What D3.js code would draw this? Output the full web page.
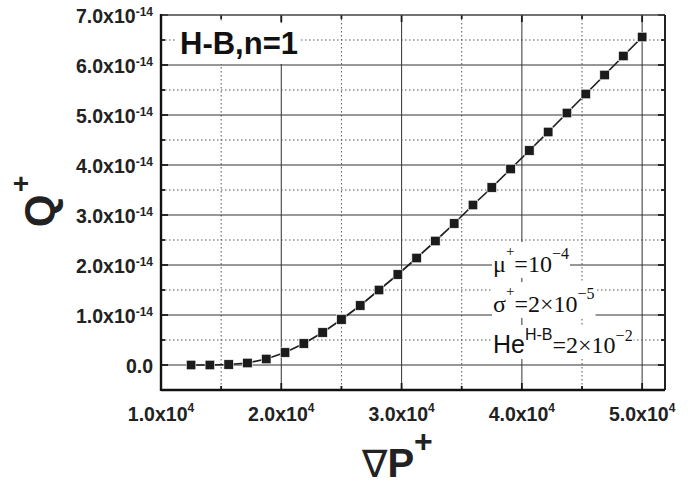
<!DOCTYPE html>
<html>
<head>
<meta charset="utf-8">
<script src="https://cdn.jsdelivr.net/npm/d3@7"></script>
<style>
  html, body { margin: 0; padding: 0; background: #fff; }
  svg { display: block; }
</style>
</head>
<body>
<svg id="chart" width="699" height="485"></svg>
<script>
// Pressure gradient (∇P+) and flow rate (Q+) samples
const gradP = [12500, 14062.5, 15625, 17187.5, 18750, 20312.5, 21875, 23437.5, 25000,
  26562.5, 28125, 29687.5, 31250, 32812.5, 34375, 35937.5, 37500, 39062.5, 40625,
  42187.5, 43750, 45312.5, 46875, 48437.5, 50000];
const flowQ = [0.00e-14, 0.00e-14, 0.01e-14, 0.04e-14, 0.12e-14, 0.25e-14, 0.43e-14,
  0.65e-14, 0.91e-14, 1.19e-14, 1.50e-14, 1.81e-14, 2.14e-14, 2.48e-14, 2.83e-14,
  3.20e-14, 3.55e-14, 3.92e-14, 4.29e-14, 4.66e-14, 5.04e-14, 5.42e-14, 5.80e-14,
  6.18e-14, 6.56e-14];

// Axis ticks and their labels (mantissa + exponent)
const xMajorTicks = [1e4, 2e4, 3e4, 4e4, 5e4];
const xMinorTicks = [1.5e4, 2.5e4, 3.5e4, 4.5e4];
const xTickMantissa = ["1.0x10", "2.0x10", "3.0x10", "4.0x10", "5.0x10"];
const xTickExponent = ["4", "4", "4", "4", "4"];
const yMajorTicks = [0, 1e-14, 2e-14, 3e-14, 4e-14, 5e-14, 6e-14, 7e-14];
const yMinorTicks = [0.5e-14, 1.5e-14, 2.5e-14, 3.5e-14, 4.5e-14, 5.5e-14, 6.5e-14];
const yTickMantissa = ["0.0", "1.0x10", "2.0x10", "3.0x10", "4.0x10", "5.0x10", "6.0x10", "7.0x10"];
const yTickExponent = ["", "-14", "-14", "-14", "-14", "-14", "-14", "-14"];

const SANS = "'Liberation Sans', Arial, Helvetica, sans-serif";
const SERIF = "'Liberation Serif', 'Times New Roman', serif";

const svg = d3.select("#chart");
const plot = { left: 161, right: 665, top: 15, bottom: 390 };

const x = d3.scaleLinear().domain([1e4, 5.19e4]).range([plot.left, plot.right]);
const y = d3.scaleLinear().domain([-0.5e-14, 7e-14]).range([plot.bottom, plot.top]);

const grid = svg.append("g");
// dotted minor grid
grid.selectAll("line.xminor").data(xMinorTicks).join("line")
  .attr("x1", d => x(d)).attr("x2", d => x(d))
  .attr("y1", plot.top).attr("y2", plot.bottom)
  .attr("stroke", "#555").attr("stroke-width", 1).attr("stroke-dasharray", "1.5,2.5");
grid.selectAll("line.yminor").data(yMinorTicks).join("line")
  .attr("x1", plot.left).attr("x2", plot.right)
  .attr("y1", d => y(d)).attr("y2", d => y(d))
  .attr("stroke", "#555").attr("stroke-width", 1).attr("stroke-dasharray", "1.5,2.5");
// solid major grid
grid.selectAll("line.xmajor").data(xMajorTicks.slice(1)).join("line")
  .attr("x1", d => x(d)).attr("x2", d => x(d))
  .attr("y1", plot.top).attr("y2", plot.bottom)
  .attr("stroke", "#444").attr("stroke-width", 1.1);
grid.selectAll("line.ymajor").data(yMajorTicks.slice(0, -1)).join("line")
  .attr("x1", plot.left).attr("x2", plot.right)
  .attr("y1", d => y(d)).attr("y2", d => y(d))
  .attr("stroke", "#333").attr("stroke-width", 1.1);

// inward tick marks on all four sides
const ticks = svg.append("g").attr("stroke", "#1a1a1a").attr("stroke-width", 1.8);
yMajorTicks.forEach(v => {
  ticks.append("line").attr("x1", plot.left).attr("x2", plot.left + 7).attr("y1", y(v)).attr("y2", y(v));
  ticks.append("line").attr("x1", plot.right).attr("x2", plot.right - 7).attr("y1", y(v)).attr("y2", y(v));
});
yMinorTicks.forEach(v => {
  ticks.append("line").attr("x1", plot.left).attr("x2", plot.left + 4).attr("y1", y(v)).attr("y2", y(v));
  ticks.append("line").attr("x1", plot.right).attr("x2", plot.right - 4).attr("y1", y(v)).attr("y2", y(v));
});
xMajorTicks.forEach(v => {
  ticks.append("line").attr("x1", x(v)).attr("x2", x(v)).attr("y1", plot.bottom).attr("y2", plot.bottom - 7);
  ticks.append("line").attr("x1", x(v)).attr("x2", x(v)).attr("y1", plot.top).attr("y2", plot.top + 7);
});
xMinorTicks.forEach(v => {
  ticks.append("line").attr("x1", x(v)).attr("x2", x(v)).attr("y1", plot.bottom).attr("y2", plot.bottom - 4);
  ticks.append("line").attr("x1", x(v)).attr("x2", x(v)).attr("y1", plot.top).attr("y2", plot.top + 4);
});

// frame
svg.append("line").attr("x1", plot.left).attr("x2", plot.right).attr("y1", plot.top).attr("y2", plot.top)
  .attr("stroke", "#444").attr("stroke-width", 1.6);
svg.append("line").attr("x1", plot.right).attr("x2", plot.right).attr("y1", plot.top).attr("y2", plot.bottom)
  .attr("stroke", "#222").attr("stroke-width", 2);
svg.append("line").attr("x1", plot.left).attr("x2", plot.right).attr("y1", plot.bottom).attr("y2", plot.bottom)
  .attr("stroke", "#111").attr("stroke-width", 2.4);
svg.append("line").attr("x1", plot.left).attr("x2", plot.left).attr("y1", plot.top - 1).attr("y2", plot.bottom + 1)
  .attr("stroke", "#111").attr("stroke-width", 2.4);

// tick labels
const yLab = svg.append("g").attr("font-family", SANS).attr("font-weight", "bold").attr("fill", "#222");
yMajorTicks.forEach((v, i) => {
  const t = yLab.append("text").attr("x", 153).attr("y", y(v) + 7.5)
    .attr("text-anchor", "end").attr("font-size", 19.5);
  t.append("tspan").text(yTickMantissa[i]);
  if (yTickExponent[i]) t.append("tspan").attr("dy", -7).attr("font-size", 12).text(yTickExponent[i]);
});
const xLab = svg.append("g").attr("font-family", SANS).attr("font-weight", "bold").attr("fill", "#222");
xMajorTicks.forEach((v, i) => {
  const t = xLab.append("text").attr("x", x(v)).attr("y", 421)
    .attr("text-anchor", "middle").attr("font-size", 19.5);
  t.append("tspan").text(xTickMantissa[i]);
  t.append("tspan").attr("dy", -9).attr("font-size", 12).text(xTickExponent[i]);
});

// axis titles
const xt = svg.append("text").attr("x", 362).attr("y", 477).attr("font-family", SANS)
  .attr("font-weight", "bold").attr("fill", "#222").attr("font-size", 40);
xt.append("tspan").attr("font-weight", "normal").attr("font-family", "'DejaVu Sans', sans-serif").attr("font-size", 38).text("∇");
xt.append("tspan").text("P");
xt.append("tspan").attr("dy", -25).attr("font-size", 32).text("+");

const yt = svg.append("text").attr("transform", "translate(54,211) rotate(-90)")
  .attr("font-family", SANS).attr("font-weight", "bold").attr("fill", "#222")
  .attr("text-anchor", "middle").attr("font-size", 42);
yt.append("tspan").text("Q");
svg.append("text").attr("x", 21).attr("y", 193).attr("text-anchor", "middle")
  .attr("font-family", SANS).attr("font-weight", "bold").attr("fill", "#222")
  .attr("font-size", 28).text("+");

// connecting line and square markers
const line = d3.line().x((d, i) => x(gradP[i])).y(d => y(d));
svg.append("path").datum(flowQ).attr("d", line)
  .attr("fill", "none").attr("stroke", "#1e1e1e").attr("stroke-width", 1.7);
svg.append("g").selectAll("rect").data(flowQ).join("rect")
  .attr("x", (d, i) => x(gradP[i]) - 4.75).attr("y", d => y(d) - 4.75)
  .attr("width", 9.5).attr("height", 9.5)
  .attr("fill", "#1b1b1b").attr("stroke", "#fff").attr("stroke-width", 0.6);

// white backing behind a text element
function backed(textSel, pad) {
  const b = textSel.node().getBBox();
  svg.insert("rect", () => textSel.node())
    .attr("x", b.x - pad).attr("y", b.y - pad)
    .attr("width", b.width + 2 * pad).attr("height", b.height + 2 * pad)
    .attr("fill", "#fff");
}

const title = svg.append("text").attr("x", 180).attr("y", 54)
  .attr("font-family", SANS).attr("font-weight", "bold").attr("font-size", 31)
  .attr("fill", "#111").text("H-B,n=1");
backed(title, 3);

// parameter annotations
const p1 = svg.append("text").attr("x", 493).attr("y", 272).attr("font-family", SERIF)
  .attr("font-size", 24).attr("fill", "#111");
p1.append("tspan").text("μ");
p1.append("tspan").attr("dy", -16).attr("font-size", 15).text("+");
p1.append("tspan").attr("dy", 16).text("=10");
p1.append("tspan").attr("dy", -13).attr("font-size", 16).text("−4");
backed(p1, 1);

const p2 = svg.append("text").attr("x", 493).attr("y", 312).attr("font-family", SERIF)
  .attr("font-size", 24).attr("fill", "#111");
p2.append("tspan").text("σ");
p2.append("tspan").attr("dy", -16).attr("font-size", 15).text("+");
p2.append("tspan").attr("dy", 16).text("=2×10");
p2.append("tspan").attr("dy", -13).attr("font-size", 16).text("−5");
backed(p2, 1);

const p3 = svg.append("text").attr("x", 493).attr("y", 353).attr("font-family", SERIF)
  .attr("font-size", 24).attr("fill", "#111");
p3.append("tspan").attr("font-family", SANS).attr("font-size", 25).text("He");
p3.append("tspan").attr("dy", -13).attr("font-family", SANS).attr("font-size", 16).text("H-B");
p3.append("tspan").attr("dy", 13).text("=2×10");
p3.append("tspan").attr("dy", -12).attr("font-size", 16).text("−2");
backed(p3, 1);
</script>
</body>
</html>
